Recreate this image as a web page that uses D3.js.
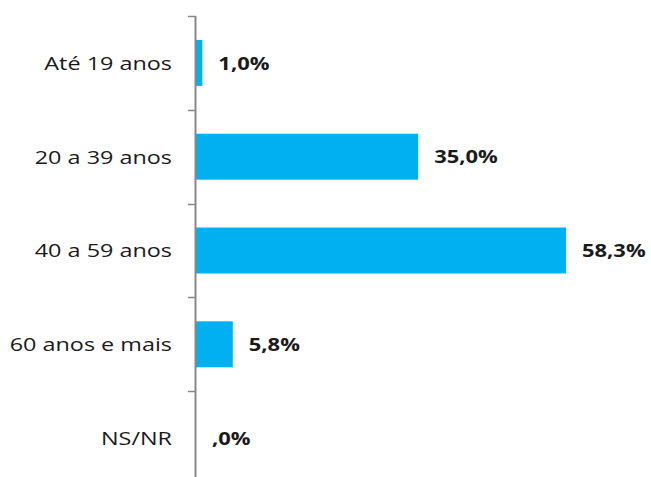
<!DOCTYPE html>
<html>
<head>
<meta charset="utf-8">
<script src="https://cdn.jsdelivr.net/npm/d3@7"></script>
<style>
  html, body { margin: 0; padding: 0; background: #fff; }
  svg { display: block; }
</style>
</head>
<body>
<div id="chart"></div>
<script>
// Faixa etária – distribuição percentual
const categories = ["Até 19 anos", "20 a 39 anos", "40 a 59 anos", "60 anos e mais", "NS/NR"];
const values = [1.0, 35.0, 58.3, 5.8, 0.0];
const valueLabels = ["1,0%", "35,0%", "58,3%", "5,8%", ",0%"];

const W = 651, H = 477;
const axisX = 196;
const textStretch = 1.3;

const svg = d3.select("#chart").append("svg")
  .attr("width", W).attr("height", H);

const y = d3.scaleBand()
  .domain(categories)
  .range([16, 485])
  .paddingInner(0.51)
  .paddingOuter(0.255);

const x = d3.scaleLinear()
  .domain([0, d3.max(values)])
  .range([axisX, 566]);

// bars
svg.append("g").selectAll("rect")
  .data(values)
  .join("rect")
  .attr("x", x(0))
  .attr("y", (d, i) => y(categories[i]))
  .attr("width", d => x(d) - x(0))
  .attr("height", y.bandwidth())
  .attr("fill", "#00b0f0");

// category axis: vertical line with ticks at band boundaries
const step = y.step();
const axisTop = y.range()[0];
const boundaries = d3.range(categories.length + 1).map(i => axisTop + i * step);
const axis = svg.append("g").attr("stroke", "#888888");
axis.append("line")
  .attr("x1", axisX - 0.5).attr("x2", axisX - 0.5)
  .attr("y1", axisTop).attr("y2", axisTop + categories.length * step)
  .attr("stroke-width", 2);
axis.selectAll("line.tick")
  .data(boundaries)
  .join("line")
  .attr("class", "tick")
  .attr("x1", axisX - 8).attr("x2", axisX)
  .attr("y1", d => Math.round(d) + 0.5).attr("y2", d => Math.round(d) + 0.5)
  .attr("stroke-width", 1.5);

// category labels
svg.append("g").selectAll("text")
  .data(categories)
  .join("text")
  .attr("transform", d => `translate(172,${y(d) + y.bandwidth() / 2}) scale(${textStretch},1)`)
  .attr("text-anchor", "end")
  .attr("dominant-baseline", "central")
  .attr("font-family", "'Open Sans', sans-serif")
  .attr("font-size", 18)
  .attr("fill", "#1a1a1a")
  .text(d => d);

// value labels
svg.append("g").selectAll("text")
  .data(values)
  .join("text")
  .attr("transform", (d, i) => `translate(${x(d) + 16},${y(categories[i]) + y.bandwidth() / 2}) scale(1.22,1)`)
  .attr("dominant-baseline", "central")
  .attr("font-family", "'Open Sans', sans-serif")
  .attr("font-weight", 700)
  .attr("font-size", 18)
  .attr("fill", "#1a1a1a")
  .text((d, i) => valueLabels[i]);
</script>
</body>
</html>
